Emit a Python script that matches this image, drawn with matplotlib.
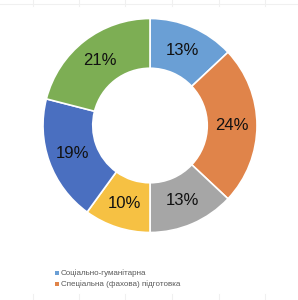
import matplotlib
matplotlib.use("Agg")
import matplotlib.pyplot as plt
from matplotlib.lines import Line2D
import numpy as np

values = [13, 24, 13, 10, 19, 21]
labels = ["13%", "24%", "13%", "10%", "19%", "21%"]
colors = ["#6A9FD5", "#E0844A", "#A6A6A6", "#F6C143", "#4A6FC0", "#7DAE54"]
legend_names = ["Соціально-гуманітарна", "Спеціальна (фахова) підготовка"]

W, H = 298, 300
fig = plt.figure(figsize=(W / 100, H / 100), dpi=100)
fig.patch.set_facecolor("white")

# faint spreadsheet gridlines at the edges
grid_c = "#F0F0F0"
fig.add_artist(Line2D([0, 1], [1 - 3.5 / H, 1 - 3.5 / H], color=grid_c, lw=0.8))
for gx in [32.5, 79, 125.5, 172, 218.5, 265]:
    fig.add_artist(Line2D([gx / W, gx / W], [1 - 6 / H, 1], color=grid_c, lw=0.8))
    fig.add_artist(Line2D([gx / W, gx / W], [0, 6 / H], color=grid_c, lw=0.8))

cx, cy, R = 150, 125.5, 107
ax = fig.add_axes([(cx - R) / W, 1 - (cy + R) / H, 2 * R / W, 2 * R / H])
ax.set_aspect("equal")
wedges, _ = ax.pie(values, colors=colors, startangle=90, counterclock=False,
                   radius=1.0,
                   wedgeprops=dict(width=0.465, edgecolor="white", linewidth=1.2))
theta = 90.0
total = sum(values)
for v, lab in zip(values, labels):
    ang = theta - v / total * 360 / 2
    theta -= v / total * 360
    r = 0.765
    ax.text(r * np.cos(np.radians(ang)), r * np.sin(np.radians(ang)), lab,
            ha="center", va="center", fontsize=12, family="Liberation Sans",
            color="#111111")
ax.set_xlim(-1, 1)
ax.set_ylim(-1, 1)
ax.axis("off")

# legend
for i, (name, c) in enumerate(zip(legend_names, colors[:2])):
    y = 272.7 + i * 11
    fig.add_artist(plt.Rectangle((55 / W, 1 - (y + 2) / H), 4 / W, 4 / H,
                                 transform=fig.transFigure, color=c, lw=0))
    fig.text(61 / W, 1 - y / H, name, ha="left", va="center", fontsize=5.8,
             family="Liberation Sans", color="#595959")

fig.savefig("out.png", dpi=100, facecolor="white")
